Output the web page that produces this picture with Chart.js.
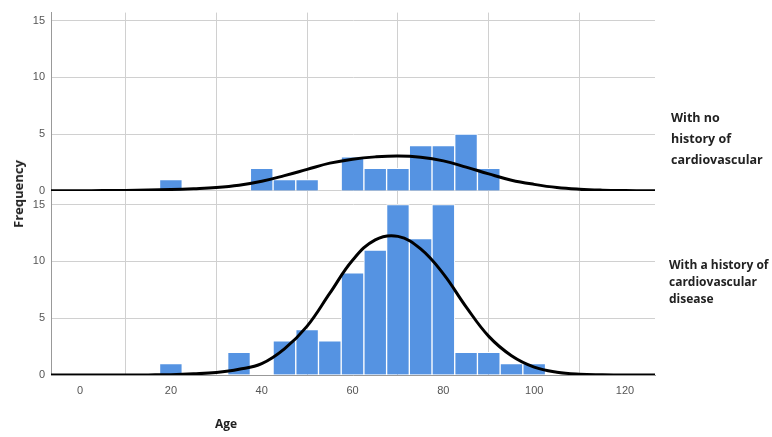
<!DOCTYPE html>
<html>
<head>
<meta charset="utf-8">
<script src="https://cdn.jsdelivr.net/npm/chart.js@4/dist/chart.umd.min.js"></script>
<style>
  body { margin: 0; background: #fff; }
  #wrap { position: relative; width: 772px; height: 437px; font-family: "Open Sans", sans-serif; }
  #chart { position: absolute; left: 0; top: 0; }
  .lbl { position: absolute; font-weight: 700; color: #222; white-space: nowrap; }
  #freq { left: 18px; top: 194px; transform: translate(-50%, -50%) rotate(-90deg); font-size: 13px; }
  #age { left: 226px; top: 423px; transform: translate(-50%, -50%); font-size: 12px; }
  #noHist { left: 671px; top: 107px; font-size: 12.5px; line-height: 21px; }
  #hist { left: 669px; top: 256px; font-size: 12px; line-height: 17px; }
</style>
</head>
<body>
<div id="wrap">
  <canvas id="chart" width="772" height="437"></canvas>
  <div class="lbl" id="freq">Frequency</div>
  <div class="lbl" id="age">Age</div>
  <div class="lbl" id="noHist">With no<br>history of<br>cardiovascular</div>
  <div class="lbl" id="hist">With a history of<br>cardiovascular<br>disease</div>
</div>
<script>
// histogram bins (centre of each 5-year bin) and counts
const noHistBins = [20, 40, 45, 50, 60, 65, 70, 75, 80, 85, 90]
const noHistCounts = [1, 2, 1, 1, 3, 2, 2, 4, 4, 5, 2]

const histBins = [20, 35, 45, 50, 55, 60, 65, 70, 75, 80, 85, 90, 95, 100]
const histCounts = [1, 2, 3, 4, 3, 9, 11, 15, 12, 15, 2, 2, 1, 1]

// normal curves, every 5 years
const curveAges = [-10, -5, 0, 5, 10, 15, 20, 25, 30, 35, 40, 45, 50, 55, 60, 65, 70, 75, 80, 85, 90, 95, 100, 105, 110, 115, 120, 125, 130]
const noHistCurve = [0.01, 0.01, 0.02, 0.03, 0.05, 0.08, 0.13, 0.2, 0.3, 0.5, 0.85, 1.35, 1.9, 2.45, 2.8, 3.0, 3.08, 2.97, 2.65, 2.1, 1.5, 0.95, 0.58, 0.3, 0.15, 0.07, 0.03, 0.01, 0.01]
const histCurve = [0, 0, 0, 0, 0, 0.01, 0.03, 0.1, 0.22, 0.5, 1.0, 2.3, 4.3, 7.2, 10.1, 11.9, 12.2, 11.1, 8.9, 6.0, 3.4, 1.7, 0.7, 0.25, 0.07, 0.02, 0, 0, 0]

const xTicks = [0, 20, 40, 60, 80, 100, 120]
const yTicks = [0, 5, 10, 15]

const BLUE = '#5593e2'
const GRID = '#d0d0d0'
const TICK_COLOR = '#555'

const pts = (xs, ys) => xs.map((x, i) => ({x: x, y: ys[i]}))
const fixTicks = vals => s => { s.ticks = vals.map(v => ({value: v})) }

const barSet = (xs, ys, axis) => ({
  type: 'bar',
  data: pts(xs, ys),
  yAxisID: axis,
  backgroundColor: BLUE,
  borderColor: '#fff',
  borderWidth: 1,
  grouped: false,
  barPercentage: 1,
  categoryPercentage: 1,
  order: 1
})

const lineSet = (xs, ys, axis) => ({
  type: 'line',
  data: pts(xs, ys),
  yAxisID: axis,
  borderColor: '#000',
  borderWidth: 3,
  pointRadius: 0,
  tension: 0.4,
  fill: false,
  order: 0
})

const yAxis = (max) => ({
  type: 'linear',
  position: 'left',
  stack: 'panels',
  stackWeight: max,
  min: 0,
  max: max,
  grid: { color: GRID, drawTicks: false },
  border: { color: '#999' },
  ticks: {
    padding: 6,
    color: TICK_COLOR,
    font: { family: 'Liberation Sans', size: 11 }
  },
  afterBuildTicks: fixTicks(yTicks),
  afterFit: s => { s.width = 41 }
})

new Chart(document.getElementById('chart'), {
  type: 'bar',
  data: {
    datasets: [
      barSet(noHistBins, noHistCounts, 'yTop'),
      lineSet(curveAges, noHistCurve, 'yTop'),
      barSet(histBins, histCounts, 'yBottom'),
      lineSet(curveAges, histCurve, 'yBottom')
    ]
  },
  options: {
    responsive: false,
    animation: false,
    layout: { padding: { left: 10, right: 117, top: 12, bottom: 0 } },
    plugins: { legend: { display: false }, tooltip: { enabled: false } },
    scales: {
      x: {
        type: 'linear',
        min: -6.4,
        max: 126.6,
        offset: false,
        grid: { color: GRID, drawTicks: false },
        border: { color: '#999' },
        ticks: {
          padding: 9,
          maxRotation: 0,
          autoSkip: false,
          color: TICK_COLOR,
          font: { family: 'Liberation Sans', size: 11 }
        },
        afterBuildTicks: fixTicks(xTicks),
        afterFit: s => { s.height = 62 }
      },
      // stacked axes are laid out bottom first
      yBottom: yAxis(16.2),
      yTop: yAxis(15.7)
    }
  }
})
</script>
</body>
</html>
